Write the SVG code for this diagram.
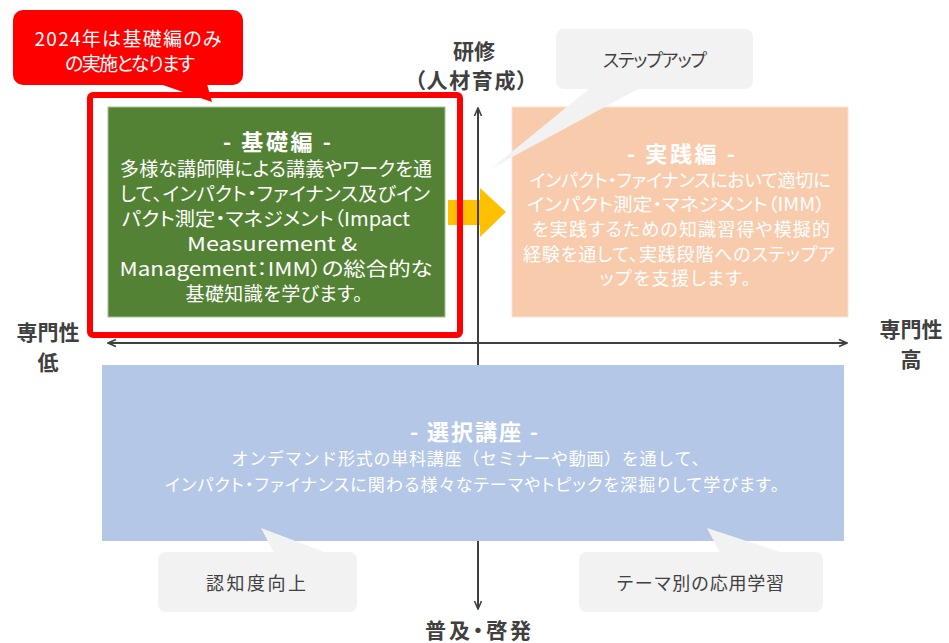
<svg xmlns="http://www.w3.org/2000/svg" width="949" height="643" viewBox="0 0 949 643">
<style>
text{font-family:"Noto Sans CJK JP","Noto Sans",sans-serif;text-anchor:middle;dominant-baseline:central;font-feature-settings:"palt"}
.w{fill:#fff;font-size:19px}
.wo{fill:#fff;font-size:18px}
.wb{fill:#fff;font-size:17px}
.wt{fill:#fff;font-size:22px;font-weight:bold}
.ax{fill:#404040;font-size:21px;font-weight:bold}
.bt{fill:#404040;font-size:18px}
.np{font-feature-settings:normal}
.bub{fill:#F2F2F2}
.axis{stroke:#404040;stroke-width:2;fill:none}
</style>
<defs>
<marker id="ah" viewBox="0 0 10 10" refX="9" refY="5" markerWidth="10" markerHeight="10" markerUnits="userSpaceOnUse" orient="auto-start-reverse">
<path d="M1,1.5 L9,5 L1,8.5" fill="none" stroke="#404040" stroke-width="1.6"/>
</marker>
</defs>
<rect width="949" height="643" fill="#fff"/>
<g id="connectors">
<path id="step-arrow" d="M448,200 L480,200 L480,188 L506,212 L480,237 L480,225 L448,225 Z" fill="#FFC000"/>
<line class="axis" x1="478" y1="609" x2="478" y2="108" marker-start="url(#ah)" marker-end="url(#ah)"/>
<line class="axis" x1="847" y1="343" x2="108" y2="343" marker-start="url(#ah)" marker-end="url(#ah)"/>
</g>
<g id="axis-labels">
<text class="ax np" x="474" y="50">研修</text>
<text class="ax" x="471" y="79" textLength="113">（人材育成）</text>
<text class="ax np" x="48" y="331">専門性</text>
<text class="ax" x="48" y="361">低</text>
<text class="ax np" x="911" y="328">専門性</text>
<text class="ax" x="911" y="358">高</text>
<text class="ax" x="478" y="629" textLength="106">普及・啓発</text>
</g>
<g id="basic">
<rect x="108" y="107" width="337" height="210" fill="#548235" stroke="#A9C18F" stroke-width="1"/>
<text class="wt" x="277" y="140" textLength="108">- 基礎編 -</text>
<text class="w" x="276" y="167" textLength="312">多様な講師陣による講義やワークを通</text>
<text class="w" x="275" y="192" textLength="310">して、インパクト・ファイナンス及びイン</text>
<text class="w" x="266" y="217" textLength="288" lengthAdjust="spacingAndGlyphs">パクト測定・マネジメント（Impact</text>
<text class="w" x="272" y="242" textLength="170" lengthAdjust="spacingAndGlyphs">Measurement &amp;</text>
<text class="w" x="276" y="267" textLength="313" lengthAdjust="spacingAndGlyphs">Management：IMM）の総合的な</text>
<text class="w" x="274" y="292" textLength="177">基礎知識を学びます。</text>
</g>
<g id="practice">
<rect x="512" y="107" width="336" height="210" fill="#F8CBAD" stroke="#FBE3D3" stroke-width="1"/>
<text class="wt" x="681" y="152" textLength="108">- 実践編 -</text>
<text class="wo" x="680" y="179" textLength="301">インパクト・ファイナンスにおいて適切に</text>
<text class="wo" x="676" y="203" textLength="298" lengthAdjust="spacingAndGlyphs">インパクト測定・マネジメント（IMM）</text>
<text class="wo" x="681" y="228" textLength="298">を実践するための知識習得や模擬的</text>
<text class="wo" x="679" y="253" textLength="312">経験を通して、実践段階へのステップア</text>
<text class="wo" x="675" y="277" textLength="151">ップを支援します。</text>
</g>
<g id="elective">
<rect x="102" y="365" width="742" height="176" fill="#B4C7E7"/>
<text class="wt" x="474" y="430" textLength="128">- 選択講座 -</text>
<text class="wb np" x="470" y="457" textLength="477">オンデマンド形式の単科講座（セミナーや動画）を通して、</text>
<text class="wb" x="472" y="483" textLength="614">インパクト・ファイナンスに関わる様々なテーマやトピックを深掘りして学びます。</text>
</g>
<g id="frame-2024">
<rect x="90" y="95" width="370" height="240" rx="3" fill="none" stroke="#FF0000" stroke-width="6"/>
</g>
<g id="callout-2024">
<rect x="13" y="10" width="230" height="75" rx="10" fill="#FF0000"/>
<path d="M160,84 L207,84 L212,102 Z" fill="#FF0000"/>
<text class="w" x="128" y="37" textLength="187">2024年は基礎編のみ</text>
<text class="w" x="130" y="62" textLength="130">の実施となります</text>
</g>
<g id="bubble-stepup">
<rect class="bub" x="556" y="29" width="197" height="60" rx="8"/>
<path class="bub" d="M590,88 L640,88 L492,168 Z"/>
<text class="bt" x="655" y="59" textLength="104">ステップアップ</text>
</g>
<g id="bubble-awareness">
<rect class="bub" x="158" y="552" width="199" height="60" rx="8"/>
<path class="bub" d="M274,553 L327,553 L261,528 Z"/>
<text class="bt" x="256" y="582" textLength="100">認知度向上</text>
</g>
<g id="bubble-theme">
<rect class="bub" x="579" y="552" width="244" height="60" rx="8"/>
<path class="bub" d="M720,553 L783,553 L707,528 Z"/>
<text class="bt np" x="700" y="582" textLength="168">テーマ別の応用学習</text>
</g>
</svg>
